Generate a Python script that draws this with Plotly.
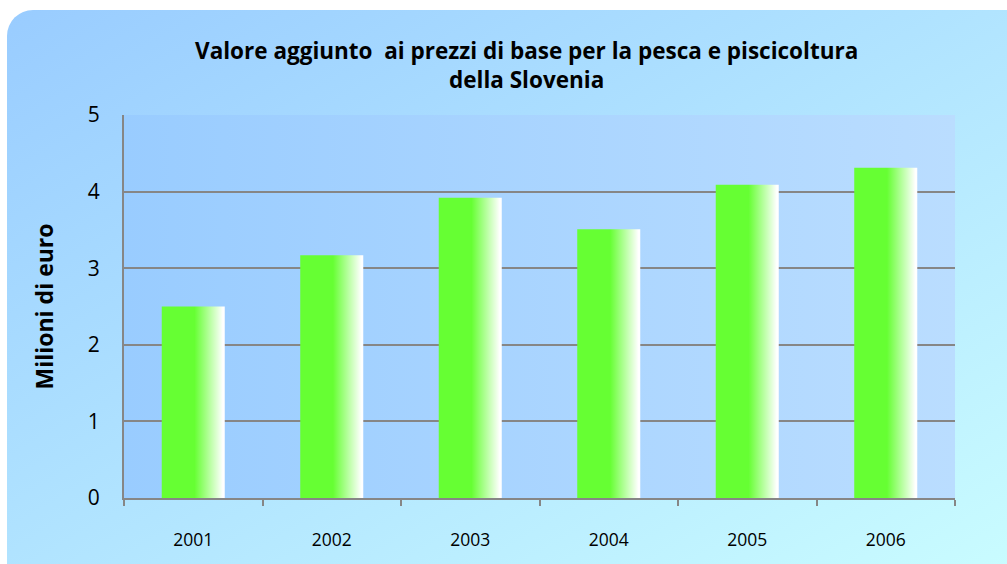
import base64
import plotly.graph_objects as go

anni = ['2001', '2002', '2003', '2004', '2005', '2006']
valori = [2.5, 3.17, 3.92, 3.51, 4.09, 4.31]
y_ticks = [0, 1, 2, 3, 4, 5]

W, H = 1007, 564
ml, mr, mt, mb = 124, 52, 115, 66
larghezza = 0.455
font_nome = "Open Sans"


def svg_uri(svg):
    return "data:image/svg+xml;base64," + base64.b64encode(svg.encode()).decode()


# sfondo arrotondato con sfumatura diagonale
sfondo = f'''<svg xmlns="http://www.w3.org/2000/svg" width="{W}" height="{H}">
<defs><linearGradient id="g" x1="0" y1="0" x2="1" y2="1">
<stop offset="0" stop-color="#99CCFF"/><stop offset="1" stop-color="#CCFFFF"/>
</linearGradient></defs>
<rect x="7" y="10" width="{W + 40}" height="{H + 40}" rx="26" ry="26" fill="url(#g)"/>
</svg>'''

area = '''<svg xmlns="http://www.w3.org/2000/svg" width="100" height="100" preserveAspectRatio="none">
<defs><linearGradient id="p" x1="0" y1="0" x2="1" y2="0">
<stop offset="0" stop-color="#99CCFF"/><stop offset="1" stop-color="#BADDFF"/>
</linearGradient></defs>
<rect x="0" y="0" width="100" height="100" fill="url(#p)"/>
</svg>'''

pw, ph = W - ml - mr, H - mt - mb

fig = go.Figure()

for i, (anno, v) in enumerate(zip(anni, valori)):
    x0, x1 = i - larghezza / 2, i + larghezza / 2
    fig.add_trace(go.Scatter(
        x=[x0, x1, x1, x0, x0],
        y=[0, 0, v, v, 0],
        mode='lines',
        fill='toself',
        line=dict(width=0),
        fillgradient=dict(
            type='horizontal',
            colorscale=[[0, '#66FF33'], [0.52, '#66FF33'], [0.97, '#FFFFFF'], [1, '#FFFFFF']]
        ),
        name=anno,
        hoveron='fills',
        text=f"{anno}: {v}",
        hoverinfo='text',
        showlegend=False
    ))

fig.update_layout(
    width=W, height=H,
    margin=dict(l=ml, r=mr, t=mt, b=mb),
    paper_bgcolor='#ffffff',
    plot_bgcolor='rgba(0,0,0,0)',
    font=dict(family=font_nome, color="#000000"),
    title=dict(
        text="<b>Valore aggiunto  ai prezzi di base per la pesca e piscicoltura<br>della Slovenia</b>",
        x=0.523, xanchor='center', y=0.895, yanchor='top',
        font=dict(size=22.5, family=font_nome, color="#000000")
    ),
    images=[
        dict(source=svg_uri(sfondo), xref='paper', yref='paper',
             x=-ml / pw, y=1 + mt / ph, sizex=W / pw, sizey=H / ph,
             xanchor='left', yanchor='top', sizing='stretch', layer='below'),
        dict(source=svg_uri(area), xref='paper', yref='paper',
             x=0, y=1, sizex=1, sizey=1,
             xanchor='left', yanchor='top', sizing='stretch', layer='below'),
    ],
)

fig.update_xaxes(
    range=[-0.5, 5.5],
    tickvals=list(range(len(anni))),
    ticktext=anni,
    ticks='',
    tickfont=dict(size=17.5, family=font_nome, color="#000000"),
    ticklabelstandoff=25,
    showline=True, linecolor='#868686', linewidth=2,
    showgrid=False, zeroline=False,
    minor=dict(tickvals=[i - 0.5 for i in range(len(anni) + 1)], ticks='outside',
               ticklen=6, tickcolor='#868686', tickwidth=2, showgrid=False),
)

fig.update_yaxes(
    range=[0, 5],
    tickvals=y_ticks,
    tickfont=dict(size=21, family=font_nome, color="#000000"),
    ticklabelstandoff=18,
    showline=True, linecolor='#868686', linewidth=2,
    showgrid=True, gridcolor='#868686', gridwidth=2,
    zeroline=False,
    title=dict(text="<b>Milioni di euro</b>", font=dict(size=23, family=font_nome), standoff=28),
)

fig.write_html("out.html", config={'displayModeBar': False},
               post_script="document.body.style.margin='0';")
